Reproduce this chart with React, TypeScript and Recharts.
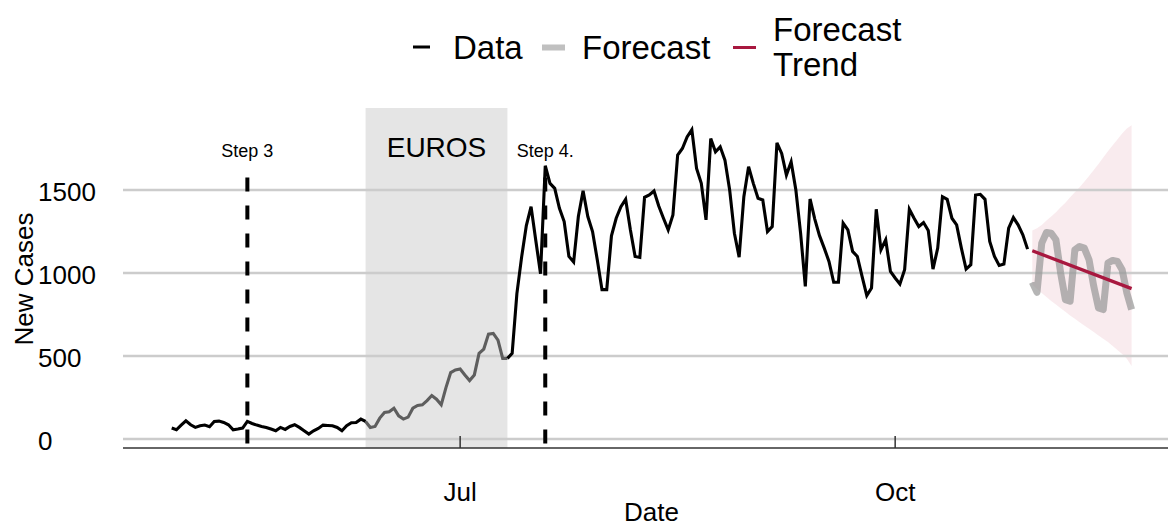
import {
  ComposedChart, Line, Area, XAxis, YAxis,
  ReferenceArea, ReferenceLine, Legend, Label,
} from 'recharts';

// daily new cases, day 0 = 1 May 2021
const observed = [
  66, 56, 84, 110, 86, 70, 80, 84, 74, 106,
  108, 100, 86, 56, 60, 66, 106, 94, 84, 76,
  70, 60, 50, 70, 58, 76, 86, 70, 50, 30,
  50, 64, 84, 82, 80, 70, 50, 80, 98, 100,
  120, 106, 70, 76, 126, 160, 164, 186, 140, 120,
  132, 186, 202, 206, 232, 262, 240, 206, 310, 400,
  416, 422, 386, 352, 386, 516, 542, 632, 636, 596,
  486, 486, 516, 876, 1096, 1286, 1400, 1196, 996, 1646,
  1540, 1510, 1390, 1310, 1100, 1066, 1340, 1496, 1340, 1250,
  1080, 900, 900, 1224, 1330, 1400, 1444, 1260, 1100, 1094,
  1456, 1470, 1494, 1404, 1330, 1260, 1350, 1710, 1750, 1820,
  1864, 1630, 1540, 1320, 1810, 1730, 1760, 1680, 1500, 1240,
  1096, 1460, 1640, 1540, 1450, 1440, 1250, 1280, 1784, 1720,
  1590, 1670, 1500, 1240, 920, 1446, 1325, 1225, 1150, 1070,
  944, 944, 1300, 1260, 1130, 1100, 980, 864, 910, 1384,
  1140, 1200, 1010, 970, 934, 1020, 1384, 1330, 1280, 1304,
  1256, 1024, 1150, 1460, 1444, 1330, 1290, 1150, 1024, 1050,
  1470, 1474, 1444, 1190, 1100, 1046, 1054, 1270, 1334, 1290,
  1230, 1144,
];

// forecast period follows the last observed day
const forecast = [944, 884, 1180, 1244, 1240, 1200, 1000, 840, 830, 1140, 1160, 1150, 1080, 920, 790, 780, 1060, 1076, 1070, 1020, 880, 780];
const bandHigh = [1256, 1270, 1290, 1316, 1340, 1366, 1396, 1424, 1456, 1486, 1516, 1550, 1584, 1620, 1656, 1696, 1734, 1770, 1804, 1840, 1870, 1890];
const bandLow = [930, 904, 880, 856, 832, 810, 788, 766, 744, 724, 704, 684, 664, 644, 624, 604, 584, 560, 536, 512, 484, 440];
const trendEnds = [1134, 906];

const monthTicks = [61, 153];
const monthLabels = ['Jul', 'Oct'];
const yTicks = [0, 500, 1000, 1500];

const steps = [
  { day: 16, label: 'Step 3', top: 1575 },
  { day: 79, label: 'Step 4.', top: 1575 },
];
const euros = { from: 41, to: 71, label: 'EUROS' };
const seriesNames = [['Data'], ['Forecast'], ['Forecast', 'Trend']];

const Y_MIN = -54;
const Y_MAX = 1994;
const FONT = '"Liberation Sans", Arial, Helvetica, sans-serif';
const TREND = '#a8183f';

const rows: any[] = [];
observed.forEach((v, day) => {
  rows.push({
    day,
    data: day <= euros.from || day >= euros.to ? v : null,
    euros: day >= euros.from && day <= euros.to ? v : null,
  });
});
const fStart = observed.length;
forecast.forEach((v, i) => {
  rows.push({
    day: fStart + i,
    forecast: v,
    band: [bandLow[i], bandHigh[i]],
    trend: i === 0 ? trendEnds[0] : i === forecast.length - 1 ? trendEnds[1] : null,
  });
});

const keyStyles = [
  { color: '#000', w: 17, h: 3, left: 413 },
  { color: '#c0c0c0', w: 23, h: 6, left: 542 },
  { color: TREND, w: 23, h: 3, left: 733 },
];

function ChartLegend() {
  return (
    <div style={{ position: 'relative', height: 108, fontFamily: FONT, fontSize: 33, lineHeight: '35px', color: '#000' }}>
      {seriesNames.map((lines, i) => {
        const k = keyStyles[i];
        return (
          <div key={i} style={{ position: 'absolute', left: k.left, top: 47, transform: 'translateY(-50%)', display: 'flex', alignItems: 'center' }}>
            <span style={{ display: 'inline-block', width: k.w, height: k.h, background: k.color, marginRight: 23 - (k.w - 17) }} />
            <span style={{ whiteSpace: 'nowrap' }}>
              {lines.map((l, j) => <div key={j}>{l}</div>)}
            </span>
          </div>
        );
      })}
    </div>
  );
}

const YTick = (props: any) => (
  <text x={38} y={props.y} dy={11} fontSize={26} fill="#000" textAnchor="start">
    {props.payload.value}
  </text>
);

export default function App() {
  return (
    <div style={{ position: 'absolute', left: 0, top: 0, fontFamily: FONT, background: '#fff' }}>
      <ComposedChart width={1170} height={527} data={rows} margin={{ top: 0, right: 2, bottom: 0, left: 0 }}>
        <Legend verticalAlign="top" content={() => <ChartLegend />} wrapperStyle={{ top: 0, left: 0, width: 1170, height: 108 }} />
        <XAxis
          dataKey="day" type="number" domain={[-10.3, 210.7]} allowDataOverflow
          ticks={monthTicks} tickFormatter={(d) => monthLabels[monthTicks.indexOf(d)]}
          tickSize={-12} tickMargin={47} height={79}
          axisLine={{ stroke: '#333', strokeWidth: 1.5 }} tickLine={{ stroke: '#333', strokeWidth: 1.5 }}
          tick={{ fontSize: 26, fill: '#000' }}
        >
          <Label value="Date" position="insideBottom" offset={6} dx={6} fontSize={26} fill="#000" />
        </XAxis>
        <YAxis
          type="number" domain={[Y_MIN, Y_MAX]} allowDataOverflow ticks={yTicks}
          width={123} axisLine={false} tickLine={false} tick={<YTick />}
        >
          <Label
            content={() => (
              <text x={33} y={279} transform="rotate(-90 33 279)" textAnchor="middle" fontSize={26} fill="#000">New Cases</text>
            )}
          />
        </YAxis>
        {yTicks.map((v) => (
          <ReferenceLine key={v} y={v} stroke="#cccccc" strokeWidth={2.5} />
        ))}
        <ReferenceArea x1={euros.from} x2={euros.to} fill="#000" fillOpacity={0.1} stroke="none"
          label={{ value: euros.label, position: 'insideTop', offset: 29, fontSize: 28, fill: '#000' }} />
        {steps.map((s) => (
          <ReferenceLine key={s.label}
            segment={[{ x: s.day, y: s.top }, { x: s.day, y: Y_MIN }]}
            stroke="#000" strokeWidth={4} strokeDasharray="14 14"
            label={{ value: s.label, position: 'top', offset: 21, fontSize: 18, fill: '#000' }} />
        ))}
        <Area dataKey="band" stroke="none" fill="#b8203f" fillOpacity={0.09} isAnimationActive={false} legendType="none" />
        <Line dataKey="forecast" stroke="#959595" strokeOpacity={0.7} strokeWidth={7} strokeLinejoin="round" dot={false} isAnimationActive={false} />
        <Line dataKey="trend" stroke={TREND} strokeWidth={3.3} dot={false} connectNulls isAnimationActive={false} />
        <Line dataKey="euros" stroke="#5e5e5e" strokeWidth={3.1} dot={false} isAnimationActive={false} />
        <Line dataKey="data" stroke="#000" strokeWidth={3.1} dot={false} isAnimationActive={false} />
      </ComposedChart>
    </div>
  );
}
